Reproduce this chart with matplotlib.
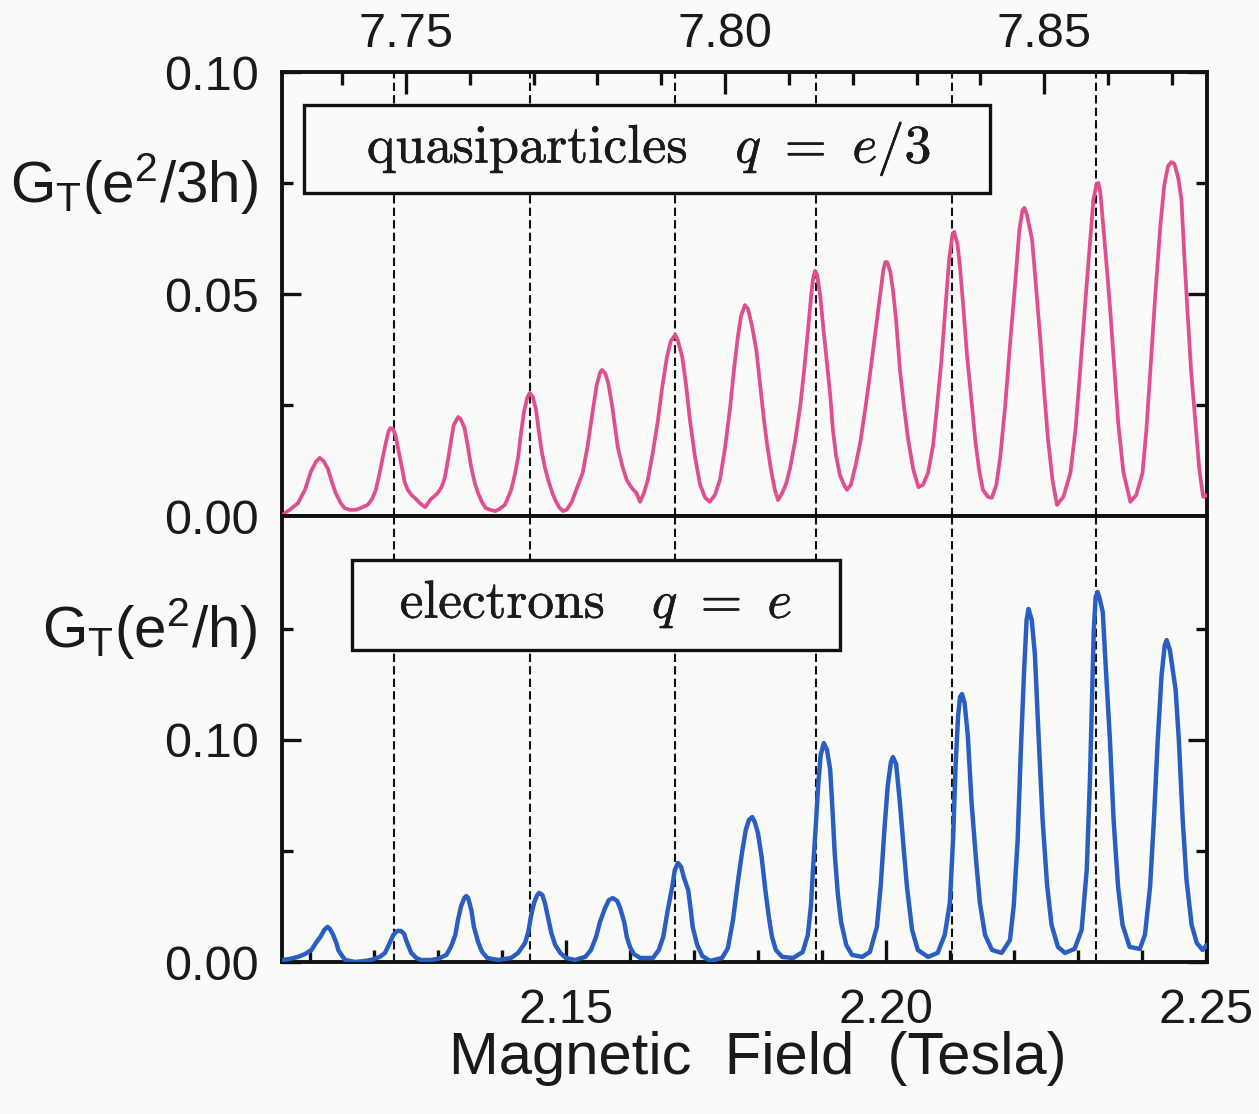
import matplotlib
matplotlib.use("Agg")
import matplotlib.pyplot as plt
import matplotlib.patheffects as pe
from matplotlib.patches import Rectangle
from matplotlib.ticker import FixedLocator, FixedFormatter, NullFormatter
from matplotlib.transforms import blended_transform_factory

plt.rcParams["font.family"] = ["Liberation Sans", "DejaVu Sans"]
plt.rcParams["mathtext.fontset"] = "custom"
plt.rcParams["mathtext.rm"] = "Liberation Sans"
plt.rcParams["mathtext.it"] = "Liberation Sans:italic"

# ---- quasiparticle trace (field in tesla, upper scale) ----
qp_field = [
    7.7306, 7.7318, 7.7331, 7.7342, 7.7351, 7.7359, 7.7365, 7.7371, 7.7378, 7.7384,
    7.7390, 7.7398, 7.7404, 7.7412, 7.7422, 7.7429, 7.7440, 7.7447, 7.7453, 7.7459,
    7.7464, 7.7469, 7.7473, 7.7476, 7.7480, 7.7484, 7.7489, 7.7494, 7.7498, 7.7503,
    7.7509, 7.7514, 7.7522, 7.7530, 7.7534, 7.7539, 7.7545, 7.7550, 7.7556, 7.7561,
    7.7566, 7.7571, 7.7575, 7.7582, 7.7586, 7.7592, 7.7597, 7.7602, 7.7608, 7.7613,
    7.7619, 7.7625, 7.7632, 7.7640, 7.7647, 7.7655, 7.7660, 7.7665, 7.7671, 7.7676,
    7.7680, 7.7685, 7.7690, 7.7694, 7.7699, 7.7704, 7.7708, 7.7713, 7.7718, 7.7723,
    7.7729, 7.7734, 7.7740, 7.7746, 7.7752, 7.7760, 7.7768, 7.7777, 7.7785, 7.7793,
    7.7799, 7.7804, 7.7807, 7.7812, 7.7817, 7.7823, 7.7828, 7.7832, 7.7839, 7.7846,
    7.7854, 7.7861, 7.7867, 7.7873, 7.7879, 7.7887, 7.7895, 7.7901, 7.7909, 7.7915,
    7.7922, 7.7926, 7.7933, 7.7939, 7.7945, 7.7953, 7.7961, 7.7969, 7.7976, 7.7984,
    7.7992, 7.8000, 7.8008, 7.8014, 7.8020, 7.8025, 7.8031, 7.8036, 7.8042, 7.8049,
    7.8055, 7.8061, 7.8066, 7.8072, 7.8078, 7.8083, 7.8089, 7.8096, 7.8102, 7.8110,
    7.8118, 7.8124, 7.8130, 7.8135, 7.8138, 7.8141, 7.8144, 7.8149, 7.8154, 7.8160,
    7.8165, 7.8169, 7.8174, 7.8180, 7.8187, 7.8191, 7.8197, 7.8205, 7.8212, 7.8219,
    7.8227, 7.8235, 7.8243, 7.8248, 7.8251, 7.8254, 7.8259, 7.8263, 7.8268, 7.8274,
    7.8281, 7.8287, 7.8295, 7.8303, 7.8310, 7.8318, 7.8326, 7.8332, 7.8339, 7.8345,
    7.8351, 7.8356, 7.8359, 7.8364, 7.8368, 7.8373, 7.8379, 7.8386, 7.8392, 7.8398,
    7.8404, 7.8412, 7.8418, 7.8425, 7.8431, 7.8439, 7.8447, 7.8455, 7.8461, 7.8466,
    7.8469, 7.8473, 7.8481, 7.8487, 7.8494, 7.8500, 7.8506, 7.8513, 7.8520, 7.8530,
    7.8541, 7.8549, 7.8556, 7.8564, 7.8572, 7.8577, 7.8582, 7.8585, 7.8588, 7.8592,
    7.8597, 7.8603, 7.8610, 7.8616, 7.8624, 7.8635, 7.8644, 7.8654, 7.8660, 7.8666,
    7.8674, 7.8682, 7.8688, 7.8694, 7.8699, 7.8704, 7.8710, 7.8715, 7.8719, 7.8724,
    7.8730, 7.8737, 7.8743, 7.8749, 7.8755]
qp_gt = [
    0.0002, 0.0014, 0.0029, 0.0059, 0.0099, 0.0122, 0.0131, 0.0124, 0.0106, 0.0077,
    0.0052, 0.0029, 0.0018, 0.0014, 0.0014, 0.0018, 0.0025, 0.0038, 0.0059, 0.0097,
    0.0133, 0.0167, 0.0191, 0.0198, 0.0196, 0.0180, 0.0144, 0.0108, 0.0077, 0.0059,
    0.0047, 0.0041, 0.0029, 0.0020, 0.0027, 0.0038, 0.0045, 0.0052, 0.0065, 0.0086,
    0.0126, 0.0171, 0.0205, 0.0223, 0.0218, 0.0198, 0.0158, 0.0113, 0.0074, 0.0052,
    0.0032, 0.0018, 0.0014, 0.0011, 0.0016, 0.0025, 0.0041, 0.0059, 0.0095, 0.0133,
    0.0182, 0.0234, 0.0266, 0.0277, 0.0268, 0.0239, 0.0194, 0.0144, 0.0108, 0.0081,
    0.0054, 0.0036, 0.0020, 0.0011, 0.0014, 0.0032, 0.0063, 0.0097, 0.0160, 0.0239,
    0.0295, 0.0322, 0.0329, 0.0322, 0.0300, 0.0250, 0.0198, 0.0155, 0.0113, 0.0081,
    0.0063, 0.0052, 0.0032, 0.0052, 0.0081, 0.0144, 0.0216, 0.0284, 0.0358, 0.0394,
    0.0408, 0.0396, 0.0358, 0.0295, 0.0216, 0.0133, 0.0070, 0.0041, 0.0032, 0.0047,
    0.0081, 0.0153, 0.0245, 0.0329, 0.0403, 0.0450, 0.0475, 0.0466, 0.0430, 0.0374,
    0.0295, 0.0216, 0.0160, 0.0104, 0.0059, 0.0036, 0.0050, 0.0074, 0.0108, 0.0171,
    0.0250, 0.0329, 0.0419, 0.0498, 0.0536, 0.0552, 0.0545, 0.0498, 0.0423, 0.0340,
    0.0268, 0.0194, 0.0135, 0.0092, 0.0068, 0.0059, 0.0070, 0.0117, 0.0167, 0.0234,
    0.0318, 0.0408, 0.0498, 0.0554, 0.0572, 0.0572, 0.0550, 0.0509, 0.0441, 0.0329,
    0.0239, 0.0171, 0.0104, 0.0065, 0.0070, 0.0097, 0.0160, 0.0245, 0.0351, 0.0464,
    0.0577, 0.0631, 0.0640, 0.0613, 0.0563, 0.0475, 0.0363, 0.0261, 0.0171, 0.0104,
    0.0059, 0.0043, 0.0041, 0.0070, 0.0131, 0.0250, 0.0396, 0.0532, 0.0644, 0.0689,
    0.0694, 0.0678, 0.0622, 0.0520, 0.0396, 0.0279, 0.0171, 0.0081, 0.0025, 0.0043,
    0.0097, 0.0194, 0.0322, 0.0475, 0.0622, 0.0712, 0.0748, 0.0750, 0.0727, 0.0662,
    0.0577, 0.0471, 0.0329, 0.0209, 0.0099, 0.0032, 0.0047, 0.0097, 0.0194, 0.0322,
    0.0498, 0.0655, 0.0745, 0.0788, 0.0797, 0.0793, 0.0761, 0.0712, 0.0599, 0.0471,
    0.0329, 0.0209, 0.0104, 0.0043, 0.0047]

# ---- electron trace (field in tesla, lower scale) ----
el_field = [
    2.1056, 2.1069, 2.1081, 2.1092, 2.1102, 2.1109, 2.1116, 2.1122, 2.1127, 2.1131,
    2.1136, 2.1141, 2.1144, 2.1150, 2.1155, 2.1170, 2.1186, 2.1195, 2.1209, 2.1217,
    2.1223, 2.1230, 2.1236, 2.1242, 2.1247, 2.1250, 2.1255, 2.1258, 2.1266, 2.1273,
    2.1288, 2.1300, 2.1313, 2.1320, 2.1327, 2.1331, 2.1336, 2.1341, 2.1344, 2.1347,
    2.1352, 2.1356, 2.1363, 2.1369, 2.1377, 2.1394, 2.1414, 2.1425, 2.1436, 2.1441,
    2.1445, 2.1450, 2.1455, 2.1458, 2.1463, 2.1467, 2.1472, 2.1477, 2.1483, 2.1491,
    2.1500, 2.1514, 2.1530, 2.1539, 2.1547, 2.1553, 2.1561, 2.1567, 2.1573, 2.1580,
    2.1584, 2.1591, 2.1595, 2.1600, 2.1606, 2.1616, 2.1636, 2.1645, 2.1652, 2.1659,
    2.1666, 2.1670, 2.1675, 2.1680, 2.1684, 2.1691, 2.1695, 2.1698, 2.1705, 2.1713,
    2.1725, 2.1744, 2.1753, 2.1761, 2.1769, 2.1775, 2.1781, 2.1786, 2.1791, 2.1795,
    2.1800, 2.1806, 2.1811, 2.1817, 2.1822, 2.1828, 2.1838, 2.1855, 2.1870, 2.1878,
    2.1883, 2.1886, 2.1891, 2.1894, 2.1898, 2.1903, 2.1908, 2.1913, 2.1917, 2.1920,
    2.1925, 2.1930, 2.1938, 2.1947, 2.1963, 2.1975, 2.1986, 2.1992, 2.1998, 2.2003,
    2.2008, 2.2011, 2.2016, 2.2022, 2.2028, 2.2033, 2.2041, 2.2050, 2.2066, 2.2081,
    2.2092, 2.2100, 2.2105, 2.2109, 2.2113, 2.2116, 2.2119, 2.2123, 2.2128, 2.2134,
    2.2141, 2.2147, 2.2155, 2.2166, 2.2181, 2.2194, 2.2200, 2.2206, 2.2211, 2.2216,
    2.2220, 2.2223, 2.2228, 2.2233, 2.2239, 2.2245, 2.2252, 2.2259, 2.2269, 2.2280,
    2.2295, 2.2306, 2.2314, 2.2319, 2.2322, 2.2325, 2.2328, 2.2331, 2.2334, 2.2339,
    2.2344, 2.2350, 2.2356, 2.2363, 2.2370, 2.2381, 2.2397, 2.2405, 2.2413, 2.2419,
    2.2425, 2.2431, 2.2436, 2.2439, 2.2444, 2.2448, 2.2453, 2.2458, 2.2464, 2.2470,
    2.2478, 2.2486, 2.2495, 2.2502]
el_gt = [
    0.0009, 0.0014, 0.0023, 0.0036, 0.0054, 0.0086, 0.0113, 0.0144, 0.0158, 0.0149,
    0.0122, 0.0086, 0.0054, 0.0027, 0.0009, 0.0000, 0.0005, 0.0009, 0.0023, 0.0041,
    0.0077, 0.0122, 0.0140, 0.0140, 0.0126, 0.0099, 0.0063, 0.0041, 0.0018, 0.0009,
    0.0009, 0.0014, 0.0032, 0.0068, 0.0122, 0.0189, 0.0252, 0.0288, 0.0297, 0.0288,
    0.0234, 0.0158, 0.0086, 0.0045, 0.0018, 0.0009, 0.0018, 0.0041, 0.0086, 0.0135,
    0.0203, 0.0266, 0.0302, 0.0311, 0.0302, 0.0266, 0.0198, 0.0131, 0.0077, 0.0041,
    0.0018, 0.0009, 0.0023, 0.0054, 0.0113, 0.0180, 0.0243, 0.0279, 0.0288, 0.0275,
    0.0248, 0.0180, 0.0113, 0.0068, 0.0036, 0.0018, 0.0018, 0.0054, 0.0113, 0.0234,
    0.0338, 0.0414, 0.0446, 0.0428, 0.0383, 0.0324, 0.0234, 0.0158, 0.0077, 0.0027,
    0.0005, 0.0018, 0.0063, 0.0189, 0.0369, 0.0491, 0.0595, 0.0640, 0.0653, 0.0631,
    0.0581, 0.0468, 0.0338, 0.0203, 0.0113, 0.0054, 0.0023, 0.0018, 0.0045, 0.0122,
    0.0257, 0.0414, 0.0640, 0.0788, 0.0932, 0.0986, 0.0955, 0.0865, 0.0662, 0.0491,
    0.0302, 0.0180, 0.0077, 0.0032, 0.0023, 0.0045, 0.0158, 0.0347, 0.0608, 0.0797,
    0.0901, 0.0923, 0.0892, 0.0716, 0.0505, 0.0338, 0.0144, 0.0054, 0.0023, 0.0041,
    0.0122, 0.0266, 0.0550, 0.0887, 0.1113, 0.1194, 0.1207, 0.1167, 0.1023, 0.0716,
    0.0459, 0.0266, 0.0122, 0.0054, 0.0041, 0.0099, 0.0257, 0.0550, 0.0955, 0.1306,
    0.1541, 0.1590, 0.1541, 0.1383, 0.1000, 0.0640, 0.0347, 0.0167, 0.0068, 0.0041,
    0.0059, 0.0144, 0.0414, 0.0820, 0.1167, 0.1495, 0.1644, 0.1667, 0.1640, 0.1577,
    0.1315, 0.1014, 0.0640, 0.0338, 0.0167, 0.0068, 0.0059, 0.0122, 0.0338, 0.0640,
    0.1000, 0.1293, 0.1428, 0.1450, 0.1405, 0.1324, 0.1225, 0.1000, 0.0640, 0.0369,
    0.0167, 0.0086, 0.0054, 0.0077]

# field positions (lower scale) of the vertical guide lines
guide_fields = [2.1231, 2.1444, 2.1670, 2.1890, 2.2104, 2.2328]

top_field_ticks = [7.75, 7.80, 7.85]
top_field_labels = ["7.75", "7.80", "7.85"]
top_field_minor = [7.74, 7.76, 7.77, 7.78, 7.79, 7.81, 7.82, 7.83, 7.84, 7.86, 7.87]
bot_field_ticks = [2.15, 2.20, 2.25]
bot_field_labels = ["2.15", "2.20", "2.25"]
bot_field_minor = [2.11, 2.12, 2.13, 2.14, 2.16, 2.17, 2.18, 2.19, 2.21, 2.22, 2.23, 2.24]
qp_yticks = [0.0, 0.05, 0.10]
qp_ylabels = ["0.00", "0.05", "0.10"]
qp_yminor = [0.025, 0.075]
el_yticks = [0.0, 0.10]
el_ylabels = ["0.00", "0.10"]
el_yminor = [0.05, 0.15]

PINK = "#df4f8f"
BLUE = "#2a5ec2"
BG = "#fafaf8"
INK = "#1a1a1a"

fig = plt.figure(figsize=(12.59, 11.14), dpi=100, facecolor=BG)
left, width = 282 / 1259, 925 / 1259
ax_top = fig.add_axes([left, 1 - 516 / 1114, width, 444 / 1114], facecolor=BG)
ax_bot = fig.add_axes([left, 1 - 962 / 1114, width, 446 / 1114], facecolor=BG)

ax_top.set_xlim(7.7306, 7.8755)
ax_top.set_ylim(0, 0.10)
ax_bot.set_xlim(2.1056, 2.2502)
ax_bot.set_ylim(0, 0.2009)

for ax in (ax_top, ax_bot):
    for sp in ax.spines.values():
        sp.set_linewidth(2.8)
        sp.set_color("#111111")

# traces
ax_top.plot(qp_field, qp_gt, color=PINK, lw=2.7, solid_joinstyle="round",
            solid_capstyle="round", zorder=3)
ax_bot.plot(el_field, el_gt, color=BLUE, lw=3.2, solid_joinstyle="round",
            solid_capstyle="round", zorder=3)

# vertical dashed guides spanning both panels
guide_style = dict(color="#111111", lw=1.5, ls=(0, (4, 2)), zorder=2)
for xf in guide_fields:
    ax_bot.axvline(xf, **guide_style)
    ax_top.plot([xf, xf], [0, 1], **guide_style,
                transform=blended_transform_factory(ax_bot.transData, ax_top.transAxes))

# ticks: upper panel
ax_top.xaxis.tick_top()
ax_top.xaxis.set_major_locator(FixedLocator(top_field_ticks))
ax_top.xaxis.set_major_formatter(FixedFormatter(top_field_labels))
ax_top.xaxis.set_minor_locator(FixedLocator(top_field_minor))
ax_top.yaxis.set_major_locator(FixedLocator(qp_yticks))
ax_top.yaxis.set_major_formatter(FixedFormatter(qp_ylabels))
ax_top.yaxis.set_minor_locator(FixedLocator(qp_yminor))
ax_top.yaxis.set_minor_formatter(NullFormatter())

# ticks: lower panel
ax_bot.xaxis.set_major_locator(FixedLocator(bot_field_ticks))
ax_bot.xaxis.set_major_formatter(FixedFormatter(bot_field_labels))
ax_bot.xaxis.set_minor_locator(FixedLocator(bot_field_minor))
ax_bot.yaxis.set_major_locator(FixedLocator(el_yticks))
ax_bot.yaxis.set_major_formatter(FixedFormatter(el_ylabels))
ax_bot.yaxis.set_minor_locator(FixedLocator(el_yminor))
ax_bot.yaxis.set_minor_formatter(NullFormatter())

for ax in (ax_top, ax_bot):
    ax.tick_params(which="both", direction="in", width=2.4, color="#111111",
                   labelsize=35, labelcolor=INK)
    ax.tick_params(axis="x", which="major", length=16)
    ax.tick_params(axis="x", which="minor", length=9)
    ax.tick_params(axis="y", which="major", length=14, pad=17)
    ax.tick_params(axis="y", which="minor", length=8)
    ax.tick_params(axis="y", which="both", left=True, right=True)
ax_top.tick_params(axis="x", which="both", top=True, bottom=False, pad=11)
ax_bot.tick_params(axis="x", which="both", top=False, bottom=True, pad=19)

# y-axis labels
ax_top.text(-0.026, 0.705, r"G$_\mathrm{T}$(e$^\mathrm{2}$/3h)", transform=ax_top.transAxes,
            ha="right", va="baseline", fontsize=42, color=INK)
ax_bot.text(-0.026, 0.704, r"G$_\mathrm{T}$(e$^\mathrm{2}$/h)", transform=ax_bot.transAxes,
            ha="right", va="baseline", fontsize=42, color=INK)

# x-axis label
fig.text(758 / 1259, 1 - 1058 / 1114, "Magnetic  Field  (Tesla)", ha="center", va="center",
         fontsize=43, color=INK)

# framed legends for the two charges
heavier = [pe.withStroke(linewidth=0.35, foreground=INK)]
ax_top.add_patch(Rectangle((22 / 925, 323 / 444), 686 / 925, 88 / 444, transform=ax_top.transAxes,
                           facecolor=BG, edgecolor="#111111", lw=2.4, zorder=5))
ax_top.text(367 / 925, 367 / 444, r"$\mathrm{quasiparticles}\quad q\ =\ e/3$",
            transform=ax_top.transAxes, ha="center", va="center", fontsize=39,
            math_fontfamily="cm", color=INK, zorder=6, path_effects=heavier)
ax_bot.add_patch(Rectangle((70 / 925, 312 / 446), 488 / 925, 90 / 446, transform=ax_bot.transAxes,
                           facecolor=BG, edgecolor="#111111", lw=2.4, zorder=5))
ax_bot.text(314 / 925, 357 / 446, r"$\mathrm{electrons}\quad q\ =\ e$",
            transform=ax_bot.transAxes, ha="center", va="center", fontsize=38.5,
            math_fontfamily="cm", color=INK, zorder=6, path_effects=heavier)

fig.savefig("out.png", dpi=100, facecolor=BG)
